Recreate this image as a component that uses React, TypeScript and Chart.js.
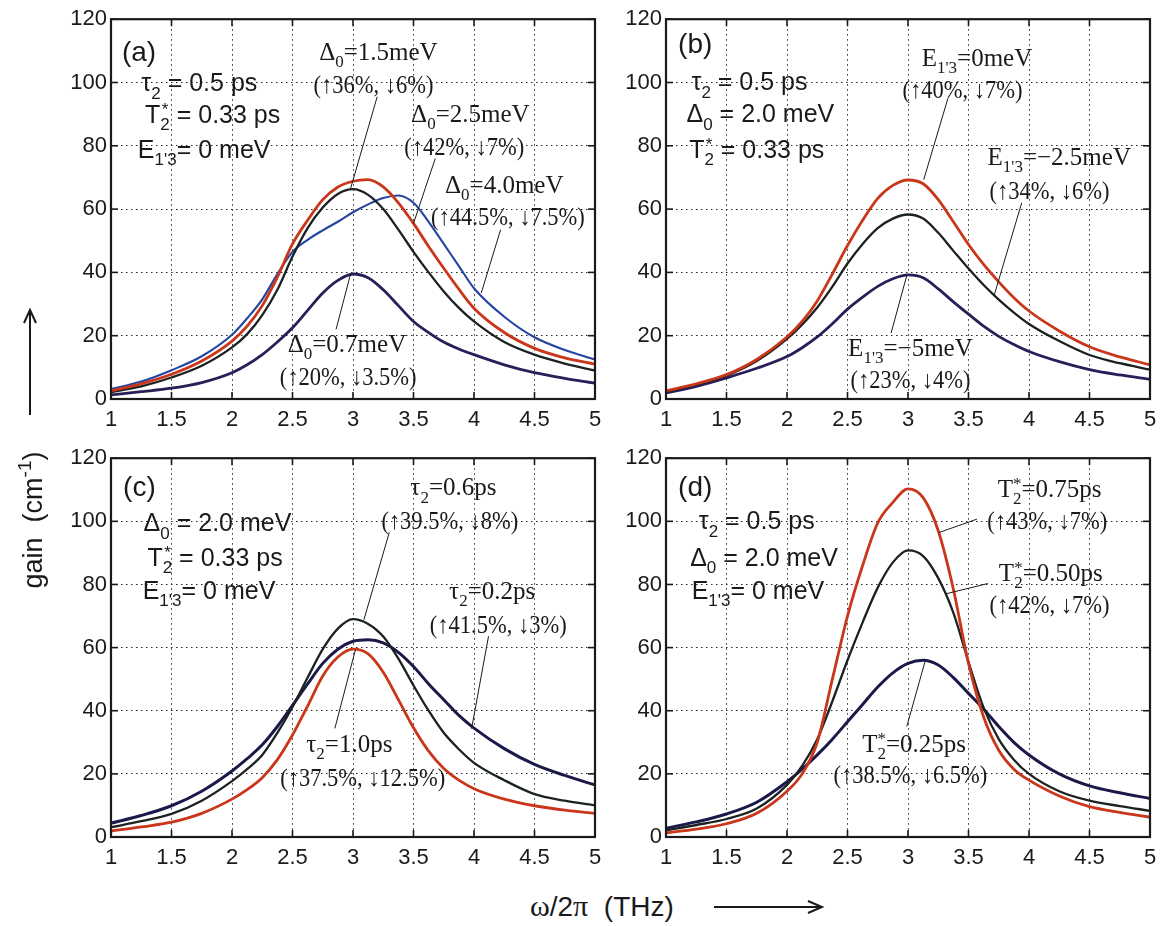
import React, { useEffect, useRef } from "react";
import { Chart, registerables } from "chart.js";

Chart.register(...registerables);

// Frequency grid (THz) shared by every curve
const FREQ = [1, 1.25, 1.5, 1.75, 2, 2.125, 2.25, 2.375, 2.5, 2.625, 2.75, 2.875, 3, 3.125, 3.25, 3.375, 3.5, 3.625, 3.75, 3.875, 4, 4.25, 4.5, 4.75, 5];

// (a) gain vs. detuning Δ0
const A_DELTA_07 = [1.3, 2.3, 3.4, 5.2, 8.3, 10.8, 14, 18, 22.5, 28, 33.5, 37.5, 39.5, 38.3, 34.5, 29.5, 24.5, 21, 18, 15.8, 14, 10.8, 8.3, 6.5, 5];
const A_DELTA_15 = [2.2, 4, 6.8, 10.5, 16.3, 20.5, 26.5, 34.5, 45, 54, 60.5, 64.8, 66.3, 64.5, 60, 53.5, 46.5, 40, 34, 28.8, 24.5, 18, 14, 11.2, 9];
const A_DELTA_25 = [2.6, 4.8, 7.8, 12, 18.3, 23, 29.5, 38.5, 49, 56.5, 63, 67, 68.8, 69.3, 67, 62, 55.5, 48.2, 41.3, 34.7, 28.7, 21, 16, 13, 11];
const A_DELTA_40 = [3.1, 5.5, 9.1, 13.5, 20.3, 25.5, 31.5, 39.5, 46.5, 50.3, 53.3, 56, 59, 61.5, 63.5, 64.3, 62, 56, 49, 42, 35, 26, 19.5, 15.5, 12.5];

// (b) gain vs. E1'3
const B_E_0 = [2.6, 4.8, 7.7, 12.5, 19.6, 24.5, 31, 39.5, 48.5, 56.5, 63.4, 67.5, 69.2, 68, 63, 56, 48.8, 42.5, 37, 32, 27.8, 21.5, 16.5, 13.3, 10.8];
const B_E_M25 = [2.3, 4.5, 7.4, 12, 19, 23.5, 28.9, 35.5, 42.8, 49, 54, 57, 58.3, 57, 52.5, 46.8, 41.2, 36, 31.4, 27.3, 23.7, 18.3, 13.9, 11.3, 9.3];
const B_E_M5 = [1.9, 4, 6.7, 9.7, 13.4, 16.2, 19.6, 23.8, 28.4, 32.2, 35.6, 38, 39.2, 38.3, 34.8, 30.7, 26.8, 23, 19.8, 17.2, 15, 11.8, 9.3, 7.6, 6.2];

// (c) gain vs. τ2
const C_TAU_02 = [4.4, 6.8, 9.9, 14.5, 20.9, 24.8, 29.2, 35, 41.7, 48.5, 55, 59.5, 62, 62.5, 61.5, 58.5, 54, 48.5, 43.5, 38.5, 34.5, 28, 23, 19.5, 16.5];
const C_TAU_06 = [3.1, 5, 7.3, 11.5, 17.7, 21.5, 26, 33, 41.2, 50.5, 59.5, 66, 69, 67.5, 63.5, 56.5, 48, 40, 33, 27.8, 23.5, 18, 13.6, 11.5, 10];
const C_TAU_10 = [1.9, 3.2, 4.7, 7.5, 12, 15, 18.8, 24.5, 32.3, 41.5, 51, 57, 59.5, 58, 52.2, 43.5, 34.6, 27.2, 21.7, 18, 15.3, 12, 9.9, 8.5, 7.5];

// (d) gain vs. T2*
const D_T2_025 = [2.8, 4.8, 7.3, 11, 17.5, 21.5, 26, 31, 36.5, 42, 47.5, 52, 55, 56, 54.5, 50.5, 45.5, 40.5, 35, 30, 26, 20, 16.2, 14, 12.2];
const D_T2_050 = [2.1, 3.8, 5.7, 9, 16.5, 22.5, 31, 43, 56, 68, 79, 87, 90.8, 89, 82, 71, 55.5, 41, 31, 24.5, 20, 14.5, 11.5, 9.8, 8.3];
const D_T2_075 = [1.3, 2.5, 4.2, 7.5, 14.5, 20, 30, 50, 70, 86, 99.5, 106, 110.3, 107.5, 97, 78.5, 55, 38, 27.5, 21.5, 18, 13, 9.6, 7.8, 6.3];

// Axis ticks
const X_TICKS = [1, 1.5, 2, 2.5, 3, 3.5, 4, 4.5, 5];
const Y_TICKS = [0, 20, 40, 60, 80, 100, 120];

const RED = "#c9361a";
const DARK = "#1b2222";
const PURPLE = "#291e58";
const BLUE = "#2545a0";
const NAVY = "#1b194a";

const SANS = "'Liberation Sans', Arial, Helvetica, sans-serif";
const SERIF = "'Liberation Serif', 'Times New Roman', 'DejaVu Serif', serif";
const INK = "#1a1a1a";

type Seg = { t: string; k: "n" | "sub" | "sup" };

// Tiny markup: _x / _{xy} subscript, ^x / ^{xy} superscript
function parseRich(s: string): Seg[] {
  const out: Seg[] = [];
  let buf = "";
  let i = 0;
  const flush = () => {
    if (buf) out.push({ t: buf, k: "n" });
    buf = "";
  };
  while (i < s.length) {
    const c = s[i];
    if (c === "_" || c === "^") {
      flush();
      let t = "";
      if (s[i + 1] === "{") {
        const j = s.indexOf("}", i + 2);
        t = s.slice(i + 2, j);
        i = j + 1;
      } else {
        t = s[i + 1];
        i += 2;
      }
      out.push({ t, k: c === "_" ? "sub" : "sup" });
    } else {
      buf += c;
      i++;
    }
  }
  flush();
  return out;
}

function drawRich(
  ctx: CanvasRenderingContext2D,
  src: string,
  cx: number,
  cy: number,
  size: number,
  family: string,
  align: string,
  squeeze: number
) {
  const segs = parseRich(src);
  const small = Math.round(size * 0.68);
  const items: { t: string; x: number; dy: number; font: string }[] = [];
  const supDy = (t: string) => (t === "*" ? -size * 0.3 : -size * 0.42);
  let x = 0;
  for (let i = 0; i < segs.length; i++) {
    const s = segs[i];
    if (s.k === "n") {
      const f = `${size}px ${family}`;
      ctx.font = f;
      items.push({ t: s.t, x, dy: 0, font: f });
      x += ctx.measureText(s.t).width;
    } else {
      const f = `${small}px ${family}`;
      ctx.font = f;
      const w = ctx.measureText(s.t).width;
      items.push({ t: s.t, x, dy: s.k === "sub" ? size * 0.3 : supDy(s.t), font: f });
      const n = segs[i + 1];
      if (s.k === "sub" && n && n.k === "sup") {
        const w2 = ctx.measureText(n.t).width;
        items.push({ t: n.t, x: x + (w - w2) / 2, dy: supDy(n.t), font: f });
        x += Math.max(w, w2);
        i++;
      } else {
        x += w;
      }
    }
  }
  const total = x * squeeze;
  const x0 = align === "center" ? cx - total / 2 : cx;
  const base = cy + size * 0.35;
  ctx.save();
  ctx.translate(x0, base);
  ctx.scale(squeeze, 1);
  ctx.fillStyle = INK;
  ctx.textAlign = "left";
  ctx.textBaseline = "alphabetic";
  for (const it of items) {
    ctx.font = it.font;
    ctx.fillText(it.t, it.x, it.dy);
  }
  ctx.restore();
}

type Label = { x: number; y: number; text: string; serif?: boolean; size?: number; align?: string };
type Series = { values: number[]; color: string; width: number };
type PanelCfg = {
  box: [number, number, number, number];
  series: Series[];
  labels: Label[];
  leaders: [number, number, number, number][];
};

const PANELS: PanelCfg[] = [
  {
    box: [111, 16, 484, 383],
    series: [
      { values: A_DELTA_25, color: RED, width: 2.8 },
      { values: A_DELTA_15, color: DARK, width: 2.3 },
      { values: A_DELTA_40, color: BLUE, width: 2.1 },
      { values: A_DELTA_07, color: PURPLE, width: 2.8 },
    ],
    labels: [
      { x: 1.09, y: 110, text: "(a)", size: 28, align: "left" },
      { x: 1.73, y: 100, text: "τ_2 = 0.5 ps" },
      { x: 1.84, y: 90, text: "T_2^* = 0.33 ps" },
      { x: 1.77, y: 79, text: "E_{1'3}= 0 meV" },
      { x: 3.21, y: 110, text: "Δ_0=1.5meV", serif: true },
      { x: 3.17, y: 99.5, text: "(↑36%, ↓6%)", serif: true },
      { x: 3.97, y: 90.4, text: "Δ_0=2.5meV", serif: true },
      { x: 3.92, y: 80, text: "(↑42%, ↓7%)", serif: true },
      { x: 4.25, y: 68, text: "Δ_0=4.0meV", serif: true },
      { x: 4.28, y: 57.6, text: "(↑44.5%, ↓7.5%)", serif: true },
      { x: 2.95, y: 17.7, text: "Δ_0=0.7meV", serif: true },
      { x: 2.96, y: 7.3, text: "(↑20%, ↓3.5%)", serif: true },
    ],
    leaders: [
      [3.2, 95.5, 2.98, 66.5],
      [3.68, 76, 3.5, 55.5],
      [4.22, 53.5, 4.06, 33.5],
      [2.98, 39.5, 2.86, 22],
    ],
  },
  {
    box: [666, 16, 484, 383],
    series: [
      { values: B_E_0, color: RED, width: 2.8 },
      { values: B_E_M25, color: DARK, width: 2.3 },
      { values: B_E_M5, color: PURPLE, width: 2.8 },
    ],
    labels: [
      { x: 1.1, y: 112.5, text: "(b)", size: 28, align: "left" },
      { x: 1.69, y: 100.3, text: "τ_2 = 0.5 ps" },
      { x: 1.78, y: 90.2, text: "Δ_0 = 2.0 meV" },
      { x: 1.75, y: 79, text: "T_2^* = 0.33 ps" },
      { x: 3.57, y: 108, text: "E_{1'3}=0meV", serif: true },
      { x: 3.45, y: 97.8, text: "(↑40%, ↓7%)", serif: true },
      { x: 4.25, y: 76.7, text: "E_{1'3}=−2.5meV", serif: true },
      { x: 4.17, y: 66, text: "(↑34%, ↓6%)", serif: true },
      { x: 3.02, y: 16.5, text: "E_{1'3}=−5meV", serif: true },
      { x: 3.02, y: 6.2, text: "(↑23%, ↓4%)", serif: true },
    ],
    leaders: [
      [3.33, 95, 3.13, 69.3],
      [3.94, 62, 3.71, 32.5],
      [2.99, 39, 2.86, 20.8],
    ],
  },
  {
    box: [111, 455, 484, 382],
    series: [
      { values: C_TAU_10, color: RED, width: 2.8 },
      { values: C_TAU_06, color: DARK, width: 2.3 },
      { values: C_TAU_02, color: NAVY, width: 3 },
    ],
    labels: [
      { x: 1.1, y: 111, text: "(c)", size: 28, align: "left" },
      { x: 1.88, y: 99.7, text: "Δ_0 = 2.0 meV" },
      { x: 1.86, y: 88.7, text: "T_2^* = 0.33 ps" },
      { x: 1.81, y: 78.3, text: "E_{1'3}= 0 meV" },
      { x: 3.83, y: 111, text: "τ_2=0.6ps", serif: true },
      { x: 3.8, y: 100.2, text: "(↑39.5%, ↓8%)", serif: true },
      { x: 4.15, y: 78.2, text: "τ_2=0.2ps", serif: true },
      { x: 4.2, y: 67.3, text: "(↑41.5%, ↓3%)", serif: true },
      { x: 2.97, y: 29.7, text: "τ_2=1.0ps", serif: true },
      { x: 3.08, y: 18.8, text: "(↑37.5%, ↓12.5%)", serif: true },
    ],
    leaders: [
      [3.3, 96.5, 3.09, 68.8],
      [4.12, 63.6, 3.98, 34.3],
      [3.02, 59.3, 2.85, 34.4],
    ],
  },
  {
    box: [666, 455, 484, 382],
    series: [
      { values: D_T2_075, color: RED, width: 2.8 },
      { values: D_T2_050, color: DARK, width: 2.3 },
      { values: D_T2_025, color: NAVY, width: 3 },
    ],
    labels: [
      { x: 1.1, y: 111.1, text: "(d)", size: 28, align: "left" },
      { x: 1.75, y: 100.2, text: "τ_2 = 0.5 ps" },
      { x: 1.81, y: 88.7, text: "Δ_0 = 2.0 meV" },
      { x: 1.76, y: 78.3, text: "E_{1'3}= 0 meV" },
      { x: 4.17, y: 110.6, text: "T_2^*=0.75ps", serif: true },
      { x: 4.15, y: 100.2, text: "(↑43%, ↓7%)", serif: true },
      { x: 4.18, y: 84, text: "T_2^*=0.50ps", serif: true },
      { x: 4.17, y: 73.6, text: "(↑42%, ↓7%)", serif: true },
      { x: 3.05, y: 29.7, text: "T_2^*=0.25ps", serif: true },
      { x: 3.02, y: 19.8, text: "(↑38.5%, ↓6.5%)", serif: true },
    ],
    leaders: [
      [3.57, 100.7, 3.26, 96.5],
      [3.66, 80.3, 3.31, 77],
      [3.14, 55.5, 2.99, 35],
    ],
  },
];

const AX_W = 72;
const AX_H = 44;
const PAD_T = 14;
const PAD_R = 16;

const framePlugin = {
  id: "frame",
  afterDatasetsDraw(chart: any, _args: any, opts: any) {
    const { ctx, chartArea: a, scales } = chart;
    const xs = scales.x;
    const ys = scales.y;
    const cfg: PanelCfg = opts.cfg;
    const seg = (x1: number, y1: number, x2: number, y2: number) => {
      ctx.beginPath();
      ctx.moveTo(x1, y1);
      ctx.lineTo(x2, y2);
      ctx.stroke();
    };
    ctx.save();
    ctx.strokeStyle = INK;
    ctx.lineWidth = 1;
    for (const l of cfg.leaders) {
      seg(xs.getPixelForValue(l[0]), ys.getPixelForValue(l[1]), xs.getPixelForValue(l[2]), ys.getPixelForValue(l[3]));
    }
    ctx.lineWidth = 1.6;
    for (const v of X_TICKS) {
      const p = xs.getPixelForValue(v);
      seg(p, a.bottom, p, a.bottom - 7);
      seg(p, a.top, p, a.top + 7);
    }
    for (const v of Y_TICKS) {
      const p = ys.getPixelForValue(v);
      seg(a.left, p, a.left + 7, p);
      seg(a.right, p, a.right - 7, p);
    }
    ctx.lineWidth = 2.2;
    ctx.strokeRect(a.left, a.top, a.right - a.left, a.bottom - a.top);
    for (const t of cfg.labels) {
      const isParen = t.text.startsWith("(↑");
      drawRich(
        ctx,
        t.text,
        xs.getPixelForValue(t.x),
        ys.getPixelForValue(t.y),
        t.size ?? 25,
        t.serif ? SERIF : SANS,
        t.align ?? "center",
        isParen ? 0.9 : 1
      );
    }
    ctx.restore();
  },
};

function Panel({ cfg }: { cfg: PanelCfg }) {
  const ref = useRef<HTMLCanvasElement>(null);
  const [left, top, w, h] = cfg.box;
  const W = w + AX_W + PAD_R;
  const H = h + PAD_T + AX_H;

  useEffect(() => {
    if (!ref.current) return;
    const chart = new Chart(ref.current, {
      type: "line",
      data: {
        datasets: cfg.series.map((s) => ({
          data: FREQ.map((f, i) => ({ x: f, y: s.values[i] })),
          borderColor: s.color,
          borderWidth: s.width,
          pointRadius: 0,
          fill: false,
          cubicInterpolationMode: "monotone" as const,
        })),
      },
      options: {
        animation: false,
        responsive: false,
        devicePixelRatio: 1,
        events: [],
        layout: { padding: { left: 0, right: PAD_R, top: PAD_T, bottom: 0 } },
        plugins: {
          legend: { display: false },
          tooltip: { enabled: false },
          frame: { cfg },
        } as any,
        scales: {
          x: {
            type: "linear",
            min: 1,
            max: 5,
            afterBuildTicks: (s: any) => {
              s.ticks = X_TICKS.map((v) => ({ value: v }));
            },
            afterFit: (s: any) => {
              s.height = AX_H;
            },
            grid: { color: "#262626", lineWidth: 1, drawTicks: false },
            border: { display: false, dash: [1.5, 3.5] },
            ticks: {
              font: { size: 22, family: SANS },
              color: INK,
              padding: 8,
              maxRotation: 0,
              autoSkip: false,
              callback: (v: any) => String(v),
            },
          },
          y: {
            type: "linear",
            min: 0,
            max: 120,
            afterBuildTicks: (s: any) => {
              s.ticks = Y_TICKS.map((v) => ({ value: v }));
            },
            afterFit: (s: any) => {
              s.width = AX_W;
            },
            grid: { color: "#262626", lineWidth: 1, drawTicks: false },
            border: { display: false, dash: [1.5, 3.5] },
            ticks: {
              font: { size: 22, family: SANS },
              color: INK,
              padding: 4,
              autoSkip: false,
              callback: (v: any) => String(v),
            },
          },
        },
      },
      plugins: [framePlugin],
    } as any);
    return () => chart.destroy();
  }, [cfg]);

  return (
    <canvas
      ref={ref}
      width={W}
      height={H}
      style={{ position: "absolute", left: left - AX_W, top: top - PAD_T, width: W, height: H }}
    />
  );
}

export default function App() {
  return (
    <div
      style={{
        position: "absolute",
        left: 0,
        top: 0,
        width: 1163,
        height: 926,
        background: "#fff",
        overflow: "hidden",
        color: INK,
      }}
    >
      {PANELS.map((p, i) => (
        <Panel key={i} cfg={p} />
      ))}
      <div
        style={{
          position: "absolute",
          left: 33,
          top: 520,
          transform: "translate(-50%, -50%) rotate(-90deg)",
          whiteSpace: "nowrap",
          font: `27px ${SANS}`,
        }}
      >
        gain&nbsp;&nbsp;(cm<sup style={{ fontSize: 19, verticalAlign: "baseline", position: "relative", top: -11 }}>-1</sup>)
      </div>
      <div
        style={{
          position: "absolute",
          left: 530,
          top: 889,
          whiteSpace: "nowrap",
          font: `28px ${SANS}`,
          lineHeight: "34px",
        }}
      >
        <span style={{ fontFamily: SERIF, fontSize: 30 }}>ω</span>/2<span style={{ fontFamily: SERIF, fontSize: 30 }}>π</span>&nbsp;&nbsp;(THz)
      </div>
      <svg width={1163} height={926} style={{ position: "absolute", left: 0, top: 0, pointerEvents: "none" }}>
        <g stroke={INK} strokeWidth={2} fill="none">
          <line x1={30} y1={415} x2={30} y2={312} />
          <polyline points="24,323 30,310 36,323" />
          <line x1={714} y1={907} x2={820} y2={907} />
          <polyline points="808,901 822,907 808,913" />
        </g>
      </svg>
    </div>
  );
}
